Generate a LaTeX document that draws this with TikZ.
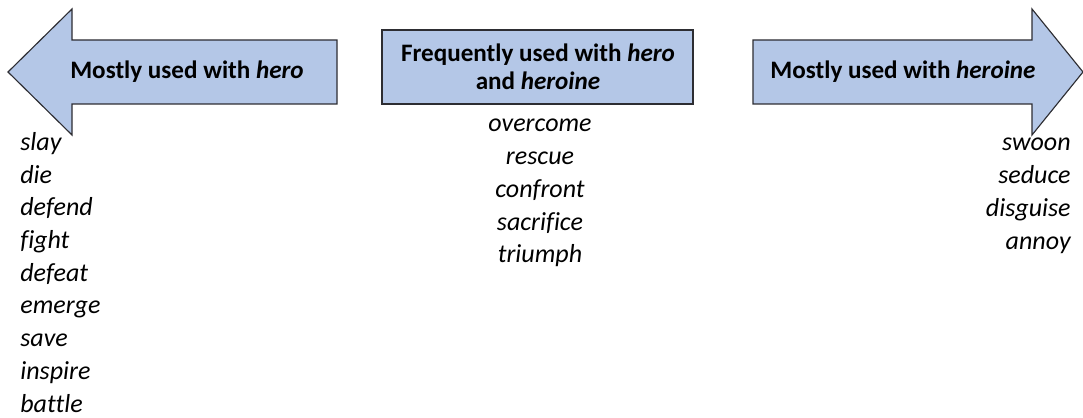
\documentclass[tikz,border=0pt]{standalone}
\usepackage{fontspec}
\setmainfont{Carlito}[Ligatures=NoCommon]
\usepackage{tikz}

\definecolor{boxblue}{RGB}{180,199,231}
\definecolor{boxline}{RGB}{45,45,50}

\begin{document}
\begin{tikzpicture}[x=0.02cm,y=-0.02cm,
    panel/.style={fill=boxblue,draw=boxline,line width=0.65pt},
    heading/.style={font=\fontsize{14.3}{16}\selectfont\bfseries,align=center,inner sep=0pt},
    verb/.style={font=\fontsize{14.8}{17}\selectfont\itshape,inner sep=0pt}]
    \useasboundingbox (0,0) rectangle (1083,418);
    % arrows and box
    \draw[panel] (8,72)--(72,9)--(72,40)--(337,40)--(337,104)--(72,104)--(72,135)--cycle;
    \draw[panel] (382,30) rectangle (693,104);
    \draw[panel] (753,40)--(1032,40)--(1032,9)--(1083,72)--(1032,135)--(1032,104)--(753,104)--cycle;
    \node[heading] (herohead) at (187,72) {Mostly used with \textit{hero}};
    \node[heading] (bothhead) at (538,67) {Frequently used with \textit{hero}\\and \textit{heroine}};
    \node[heading] (heroinehead) at (903,72) {Mostly used with \textit{heroine}};
    % word lists
    \foreach \w [count=\i] in {slay,die,defend,fight,defeat,emerge,save,inspire,battle}
        \node[verb,anchor=base west] (hero\i) at (20,{150.5+32.7*(\i-1)}) {\w};
    \foreach \w [count=\i] in {overcome,rescue,confront,sacrifice,triumph}
        \node[verb,anchor=base] (both\i) at (540,{132+32.75*(\i-1)}) {\w};
    \foreach \w [count=\i] in {swoon,seduce,disguise,annoy}
        \node[verb,anchor=base east] (heroine\i) at (1071,{151+33*(\i-1)}) {\w};
\end{tikzpicture}
\end{document}
